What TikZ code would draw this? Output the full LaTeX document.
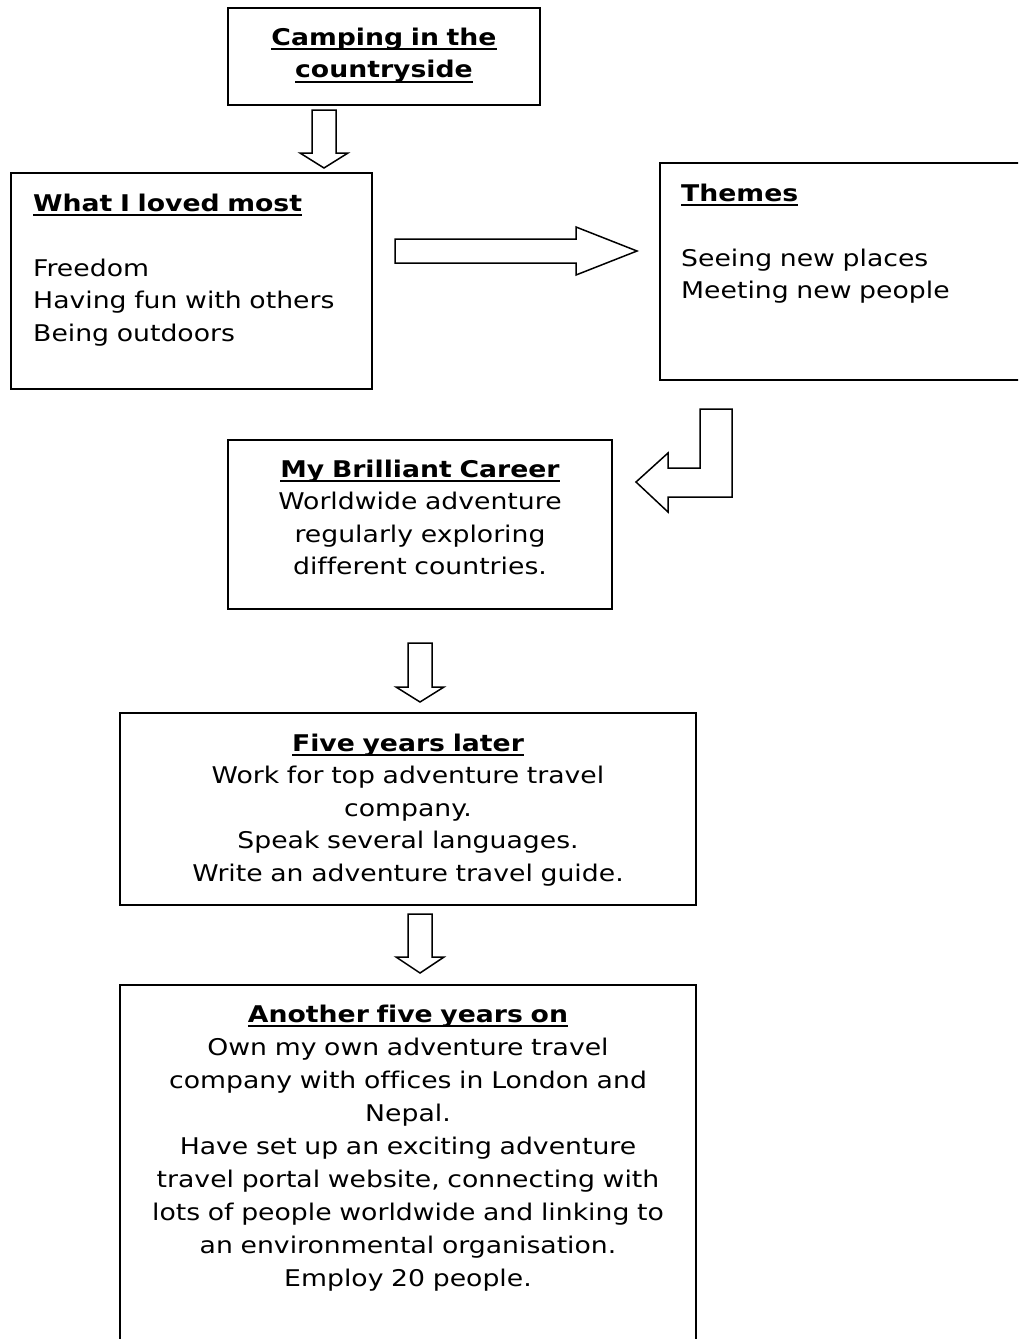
\documentclass[tikz,border=0pt]{standalone}
\usepackage{fontspec}
\setmainfont{DejaVu Sans}[FakeStretch=1.16, Ligatures=NoCommon]
\usepackage{tikz}

\newcommand{\boxtitle}[1]{\leavevmode\setbox0\hbox{\bfseries #1}\rlap{\usebox0}\rule[-5pt]{\wd0}{2pt}}

\tikzset{
  boxframe/.style={draw, line width=1.8pt, inner sep=0pt},
  boxtext/.style={inner sep=0pt, font=\fontsize{23}{32.5}\selectfont},
  blockarrow/.style={draw, line width=1.5pt, line join=miter}
}

\begin{document}
\begin{tikzpicture}[x=1pt,y=-1pt]
\useasboundingbox (0,0) rectangle (1018,1339);
\clip (0,0) rectangle (1018,1339);

% frames
\node[boxframe, minimum width=312, minimum height=97] (camping) at (384,56.5) {};
\node[boxframe, minimum width=361, minimum height=216] (loved) at (191.5,281) {};
\node[boxframe, minimum width=370, minimum height=217] (themes) at (845,271.5) {};
\node[boxframe, minimum width=384, minimum height=169] (career) at (420,524.5) {};
\node[boxframe, minimum width=576, minimum height=192] (fiveyears) at (408,809) {};
\node[boxframe, minimum width=576, minimum height=380] (anotherfive) at (408,1175) {};

% texts
\node[boxtext, text width=300, align=center, anchor=base] (campingtext) at (384,45)
  {\boxtitle{Camping in the}\\\boxtitle{countryside}};
\node[boxtext, text width=340, align=left, anchor=base west] (lovedtext) at (33,211)
  {\boxtitle{What I loved most}\\[32.5pt]Freedom\\Having fun with others\\Being outdoors};
\node[boxtext, text width=330, align=left, anchor=base west] (themestext) at (681,201)
  {\boxtitle{Themes}\\[32.5pt]Seeing new places\\Meeting new people};
\node[boxtext, text width=370, align=center, anchor=base] (careertext) at (420,477)
  {\boxtitle{My Brilliant Career}\\Worldwide adventure\\regularly exploring\\different countries.};
\node[boxtext, text width=570, align=center, anchor=base] (fiveyearstext) at (408,751)
  {\boxtitle{Five years later}\\Work for top adventure travel\\company.\\Speak several languages.\\Write an adventure travel guide.};
\node[boxtext, font=\fontsize{23}{33}\selectfont, text width=570, align=center, anchor=base] (anotherfivetext) at (408,1022)
  {\boxtitle{Another five years on}\\Own my own adventure travel\\company with offices in London and\\Nepal.\\Have set up an exciting adventure\\travel portal website, connecting with\\lots of people worldwide and linking to\\an environmental organisation.\\Employ 20 people.};

% block arrows
\draw[blockarrow] (312,110) -- (336,110) -- (336,153) -- (348,153) -- (324,168) -- (300,153) -- (312,153) -- cycle;
\draw[blockarrow] (395,239) -- (576,239) -- (576,227) -- (637,251) -- (576,275) -- (576,263) -- (395,263) -- cycle;
\draw[blockarrow] (700,409) -- (732,409) -- (732,497) -- (668,497) -- (668,512) -- (636,482) -- (668,453) -- (668,468) -- (700,468) -- cycle;
\draw[blockarrow] (408,643) -- (432,643) -- (432,687) -- (444,687) -- (420,702) -- (396,687) -- (408,687) -- cycle;
\draw[blockarrow] (408,914) -- (432,914) -- (432,957) -- (444,957) -- (420,973) -- (396,957) -- (408,957) -- cycle;
\end{tikzpicture}
\end{document}
